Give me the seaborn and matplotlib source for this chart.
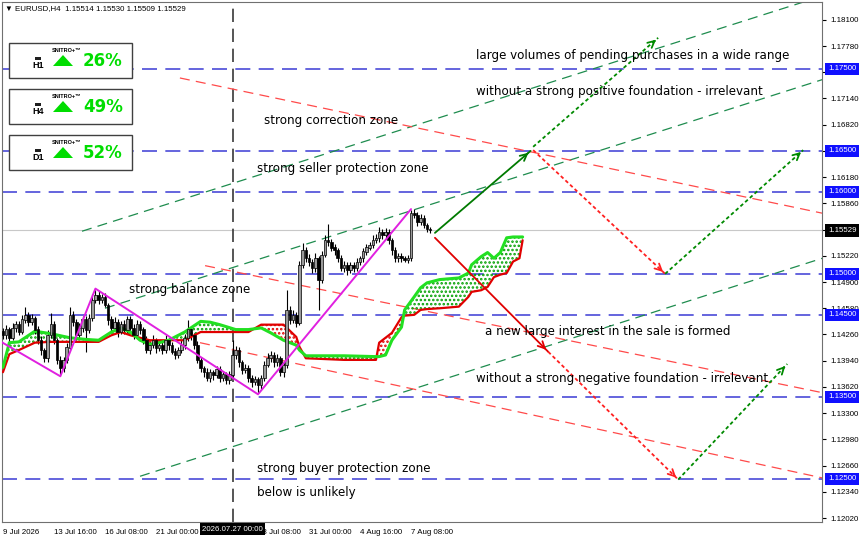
import numpy as np
import matplotlib
matplotlib.use("Agg")
import matplotlib.pyplot as plt
import seaborn as sns
from matplotlib.patches import Rectangle, Polygon

# EURUSD H4 closes, one per bar (bar 0 = 9 Jul 2026 00:00)
first_open = 1.1430
closes = [
    1.1425, 1.1432, 1.1422, 1.1434, 1.1438, 1.1429, 1.1444, 1.1450, 1.1441, 1.1446,
    1.1432, 1.1419, 1.1407, 1.1397, 1.1425, 1.1438, 1.1419, 1.1395, 1.1385, 1.1395,
    1.1410, 1.1450, 1.1441, 1.1425, 1.1434, 1.1444, 1.1432, 1.1446, 1.1468, 1.1474,
    1.1468, 1.1471, 1.1462, 1.1444, 1.1434, 1.1441, 1.1429, 1.1438, 1.1432, 1.1444,
    1.1434, 1.1425, 1.1438, 1.1432, 1.1419, 1.1407, 1.1413, 1.1419, 1.1410, 1.1413,
    1.1407, 1.1419, 1.1413, 1.1405, 1.1401, 1.1407, 1.1413, 1.1422, 1.1432, 1.1425,
    1.1413, 1.1395, 1.1385, 1.1380, 1.1373, 1.1380, 1.1377, 1.1383, 1.1373, 1.1377,
    1.1371, 1.1377, 1.1401, 1.1407, 1.1392, 1.1383, 1.1385, 1.1373, 1.1368, 1.1371,
    1.1364, 1.1373, 1.1389, 1.1397, 1.1401, 1.1392, 1.1397, 1.1380, 1.1389, 1.1456,
    1.1444, 1.1450, 1.1440, 1.1511, 1.1529, 1.1519, 1.1514, 1.1507, 1.1519, 1.1493,
    1.1523, 1.1541, 1.1539, 1.1532, 1.1529, 1.1519, 1.1507, 1.1511, 1.1505, 1.1510,
    1.1507, 1.1514, 1.1519, 1.1527, 1.1532, 1.1535, 1.1541, 1.1544, 1.1551, 1.1547,
    1.1551, 1.1541, 1.1529, 1.1519, 1.1522, 1.1519, 1.1517, 1.1519, 1.1574, 1.1572,
    1.1563, 1.1568, 1.1559, 1.1555, 1.15529,
]
# wick lengths in pips above / below the body
wick_up = [
    4, 5, 3, 6, 4, 5, 6, 10, 4, 5, 3, 4, 5, 3, 6, 14, 4, 3, 5, 4,
    6, 10, 5, 4, 6, 5, 4, 5, 7, 6, 5, 4, 6, 3, 5, 6, 4, 5, 6, 5,
    4, 5, 6, 4, 3, 5, 4, 6, 3, 5, 4, 6, 3, 4, 5, 4, 6, 5, 12, 4,
    3, 5, 4, 3, 5, 4, 3, 5, 4, 4, 3, 4, 18, 5, 4, 3, 5, 4, 3, 4,
    3, 4, 5, 6, 5, 4, 5, 3, 4, 24, 5, 6, 4, 5, 9, 4, 5, 4, 6, 3,
    5, 6, 20, 4, 5, 3, 4, 5, 3, 4, 4, 5, 3, 4, 5, 4, 6, 5, 6, 4,
    5, 4, 3, 4, 3, 4, 3, 4, 4, 5, 3, 5, 4, 3, 2,
]
wick_dn = [
    5, 4, 6, 3, 5, 4, 3, 4, 5, 4, 5, 4, 6, 4, 5, 3, 4, 5, 8, 5,
    4, 3, 5, 6, 4, 5, 27, 4, 3, 4, 5, 4, 3, 6, 5, 4, 6, 3, 5, 4,
    5, 4, 3, 6, 5, 4, 5, 3, 6, 4, 5, 4, 6, 3, 5, 4, 3, 5, 4, 6,
    5, 4, 5, 6, 4, 5, 6, 4, 5, 4, 5, 6, 4, 5, 6, 5, 4, 5, 6, 4,
    10, 5, 4, 3, 5, 6, 4, 5, 6, 4, 5, 4, 5, 3, 4, 5, 4, 6, 5, 37,
    4, 3, 5, 4, 6, 5, 4, 5, 6, 4, 5, 4, 3, 5, 4, 3, 4, 3, 5, 4,
    4, 5, 6, 5, 4, 5, 3, 4, 3, 4, 5, 4, 3, 4, 3,
]

# cloud (span A green, span B red), shifted 26 bars ahead
cloud_bar = [0, 2, 5, 10, 15, 21, 26, 30, 34, 37, 40, 43, 46, 49, 52, 57, 62, 65, 68, 73,
             77, 81, 84, 88, 92, 93, 95, 107, 117, 118, 120, 122, 125, 126, 129, 131, 133,
             137, 143, 146, 147, 150, 152, 154, 156, 158, 160, 162, 163]
span_a = [1.1386, 1.1416, 1.1417, 1.1430, 1.1427, 1.1422, 1.1420, 1.1419, 1.1429, 1.1434,
          1.1429, 1.1419, 1.1414, 1.1416, 1.1419, 1.1429, 1.1442, 1.1441, 1.1438, 1.1432,
          1.1432, 1.1434, 1.1428, 1.1419, 1.1413, 1.1407, 1.1400, 1.1400, 1.1399, 1.1399,
          1.1401, 1.1419, 1.1435, 1.1456, 1.1472, 1.1483, 1.1489, 1.1493, 1.1495, 1.1501,
          1.1511, 1.1521, 1.1526, 1.1519, 1.1526, 1.1544, 1.1545, 1.1545, 1.1545]
span_b = [1.1380, 1.1402, 1.1407, 1.1416, 1.1417, 1.1417, 1.1417, 1.1417, 1.1425, 1.1429,
          1.1425, 1.1422, 1.1419, 1.1419, 1.1419, 1.1419, 1.1429, 1.1429, 1.1429, 1.1429,
          1.1429, 1.1438, 1.1438, 1.1438, 1.1423, 1.1411, 1.1397, 1.1395, 1.1395, 1.1416,
          1.1422, 1.1428, 1.1447, 1.1449, 1.1450, 1.1456, 1.1457, 1.1458, 1.1460, 1.1472,
          1.1478, 1.1480, 1.1484, 1.1496, 1.1499, 1.1501, 1.1515, 1.1519, 1.1541]

# zigzag swing points
zz_bar = [-1, 18, 29, 80, 128]
zz_price = [1.1418, 1.1375, 1.1482, 1.1353, 1.1579]

levels = [1.17500, 1.16500, 1.16000, 1.15000, 1.14500, 1.13500, 1.12500]
last_price = 1.15529
cursor_bar = 72

price_ticks = [1.18100, 1.17780, 1.17460, 1.17140, 1.16820, 1.16500, 1.16180, 1.15860,
               1.15540, 1.15220, 1.14900, 1.14580, 1.14260, 1.13940, 1.13620, 1.13300,
               1.12980, 1.12660, 1.12340, 1.12020]
time_ticks = [0, 16, 32, 48, 64, 80, 96, 112, 128]
time_labels = ["9 Jul 2026", "13 Jul 16:00", "16 Jul 08:00", "21 Jul 00:00", "23 Jul 16:00",
               "28 Jul 08:00", "31 Jul 00:00", "4 Aug 16:00", "7 Aug 08:00"]

# channel lines: (bar0, price0, bar1, price1)
green_channels = [(24.8, 1.1552, 257, 1.1839), (32, 1.1458, 257, 1.1737), (43, 1.1253, 257, 1.1519)]
red_channels = [(55.5, 1.1739, 257, 1.1574), (63.4, 1.1510, 257, 1.1355), (61.8, 1.1416, 257, 1.1251)]

# scenario arrows: (bar0, price0, bar1, price1, colour, dotted)
arrows = [
    (135.5, 1.1550, 165.5, 1.1650, "#007a00", False),
    (166.3, 1.1655, 205.5, 1.1788, "#008a00", True),
    (166.3, 1.1651, 207.7, 1.1500, "#ff2020", True),
    (207.7, 1.1500, 251.0, 1.1651, "#008a00", True),
    (135.5, 1.1544, 171.0, 1.1405, "#e00000", False),
    (171.0, 1.1405, 211.8, 1.1249, "#ff2020", True),
    (211.8, 1.1249, 246.0, 1.1390, "#008a00", True),
]

notes = [
    (148.4, 1.17670, "large volumes of pending purchases in a wide range"),
    (148.4, 1.17231, "without a strong positive foundation - irrelevant"),
    (81.9, 1.16865, "strong correction zone"),
    (79.7, 1.16291, "strong seller protection zone"),
    (39.5, 1.14803, "strong balance zone"),
    (151.2, 1.14291, "a new large interest in the sale is formed"),
    (148.4, 1.13717, "without a strong negative foundation - irrelevant"),
    (79.7, 1.12619, "strong buyer protection zone"),
    (79.7, 1.12326, "below is unlikely"),
]

tf_names = ["H1", "H4", "D1"]
tf_pct = ["26%", "49%", "52%"]

sns.set_style("white")
plt.rcParams["font.family"] = ["Liberation Sans", "DejaVu Sans"]
SMALL = 5.7

fig = plt.figure(figsize=(8.6, 5.38), dpi=100)
ax = fig.add_axes([2 / 860, 16 / 538, 820 / 860, 520 / 538])
ax.set_xlim(-0.3, 256.9)
ax.set_ylim(1.11972, 1.18317)

# candles
c = np.array(closes)
o = np.r_[first_open, c[:-1]]
top = np.maximum(o, c)
bot = np.minimum(o, c)
hi = top + np.array(wick_up) * 0.0001
lo = bot - np.array(wick_dn) * 0.0001
bars = np.arange(len(c))
ax.vlines(bars, lo, hi, color="black", lw=0.8, zorder=3)
bull = c >= o
ax.bar(bars[bull], (top - bot)[bull] + 0.00003, bottom=bot[bull], width=0.8,
       color="#9a9a9a", edgecolor="black", linewidth=0.5, zorder=4)
ax.bar(bars[~bull], (top - bot)[~bull] + 0.00003, bottom=bot[~bull], width=0.8,
       color="black", edgecolor="black", linewidth=0.5, zorder=4)

# cloud
a = np.array(span_a)
b = np.array(span_b)
plt.rcParams["hatch.linewidth"] = 1.2
ax.fill_between(cloud_bar, a, b, where=a >= b, interpolate=True, facecolor="none",
                edgecolor="#00a000", hatch="....", linewidth=0, zorder=2)
ax.fill_between(cloud_bar, a, b, where=a < b, interpolate=True, facecolor="none",
                edgecolor="#e00000", hatch="....", linewidth=0, zorder=2)
sns.lineplot(x=cloud_bar, y=span_b, color="#e00000", lw=1.6, ax=ax, estimator=None, zorder=3)
sns.lineplot(x=cloud_bar, y=span_a, color="#22e022", lw=2.2, ax=ax, estimator=None, zorder=3)

# zigzag
sns.lineplot(x=zz_bar, y=zz_price, color="#e020e0", lw=1.4, ax=ax, estimator=None, zorder=5)

# levels, cursor, last price
for lv in levels:
    ax.axhline(lv, color="#4a4ad8", lw=1.2, ls=(0, (9, 5)), zorder=1)
ax.axhline(last_price, color="#c8c8c8", lw=0.8, zorder=1)
ax.axvline(cursor_bar, color="#383838", lw=1.2, ls=(0, (8, 4)), zorder=1)

for x0, y0, x1, y1 in green_channels:
    ax.plot([x0, x1], [y0, y1], color="#1e8c4e", lw=0.9, ls=(0, (8, 5)), zorder=1)
for x0, y0, x1, y1 in red_channels:
    ax.plot([x0, x1], [y0, y1], color="#ff4a4a", lw=0.9, ls=(0, (8, 5)), zorder=1)

for x0, y0, x1, y1, col, dotted in arrows:
    ax.plot([x0, x1], [y0, y1], color=col, lw=1.3,
            ls=(0, (2, 1.5)) if dotted else "-", zorder=6)
    ax.annotate("", xy=(x1, y1), xytext=(x1 - (x1 - x0) * 0.05, y1 - (y1 - y0) * 0.05),
                arrowprops=dict(arrowstyle="->", color=col, lw=1.3, mutation_scale=12), zorder=6)

for x, y, t in notes:
    ax.text(x, y, t, fontsize=8.6, color="black", ha="left", va="center", zorder=7,
            family="DejaVu Sans")

# axes styling
for s in ax.spines.values():
    s.set_color("#707070")
    s.set_linewidth(0.8)
ax.yaxis.tick_right()
ax.set_yticks(price_ticks)
ax.set_yticklabels([f"{v:.5f}" for v in price_ticks])
ax.set_xticks(time_ticks)
ax.set_xticklabels(time_labels)
for lbl in ax.get_xticklabels():
    lbl.set_ha("left")
ax.tick_params(axis="y", direction="out", length=3, pad=3, labelsize=SMALL, colors="black")
ax.tick_params(axis="x", direction="out", length=3, pad=2, labelsize=SMALL, colors="black")
ax.set_xlabel("")
ax.set_ylabel("")

ytr = ax.get_yaxis_transform()
for lv in levels:
    ax.text(1.0073, lv, f"{lv:.5f}", transform=ytr, ha="left", va="center", fontsize=SMALL,
            color="white", clip_on=False, zorder=10,
            bbox=dict(facecolor="#1010ff", edgecolor="none", pad=1.8))
ax.text(1.0073, last_price, f"{last_price:.5f}", transform=ytr, ha="left", va="center",
        fontsize=SMALL, color="white", clip_on=False, zorder=10,
        bbox=dict(facecolor="black", edgecolor="none", pad=1.8))
ax.text(cursor_bar, -0.0135, "2026.07.27 00:00", transform=ax.get_xaxis_transform(),
        ha="center", va="center", fontsize=SMALL, color="white", clip_on=False, zorder=10,
        bbox=dict(facecolor="black", edgecolor="none", pad=1.6))

ax.text(0.004, 0.995, "\u25BC EURUSD,H4  1.15514 1.15530 1.15509 1.15529", transform=ax.transAxes,
        ha="left", va="top", fontsize=SMALL, color="black", zorder=10)

# signal panels in pixel space
ov = fig.add_axes([0, 0, 1, 1], zorder=5)
ov.set_xlim(0, 860)
ov.set_ylim(538, 0)
ov.axis("off")
for k, (tf, pct) in enumerate(zip(tf_names, tf_pct)):
    y0 = 43 + k * 46
    ov.add_patch(Rectangle((9, y0), 123, 35, facecolor="white", edgecolor="#404040", lw=1))
    ov.text(67, y0 + 7, "SNITRO+\u2122", fontsize=4, fontweight="bold", ha="center",
            va="center", color="black")
    ov.add_patch(Rectangle((35, y0 + 14), 6, 3, facecolor="#202020", edgecolor="none"))
    ov.text(38, y0 + 22, tf, fontsize=6.5, fontweight="bold", ha="center", va="center",
            color="black")
    ov.add_patch(Polygon([(53, y0 + 23), (63, y0 + 12), (73, y0 + 23)], closed=True,
                         facecolor="#00dd00", edgecolor="none"))
    ov.text(83, y0 + 18, pct, fontsize=12, fontweight="bold", ha="left", va="center",
            color="#00dd00", family="DejaVu Sans")

fig.savefig("out.png", dpi=100)
